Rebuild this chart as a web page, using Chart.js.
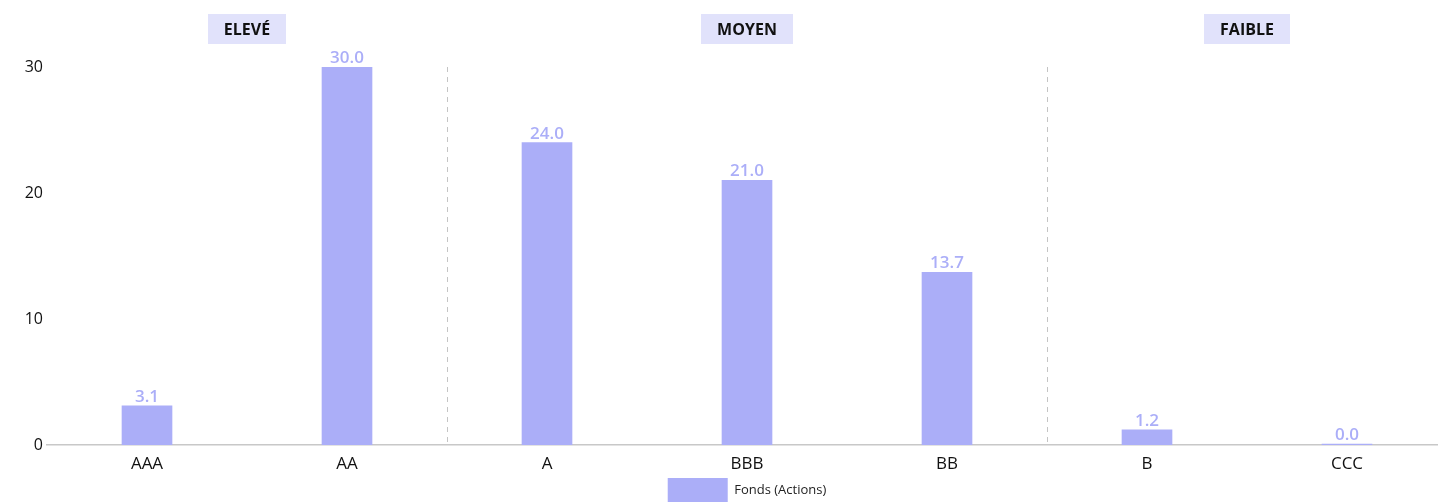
<!DOCTYPE html>
<html lang="fr">
<head>
    <meta charset="UTF-8">
    <title>Fonds (Actions)</title>
    <style>
        body {
            margin: 0;
            padding: 0;
            background-color: #fff;
            overflow: hidden;
        }

        #wrap {
            width: 1438px;
            height: 502px;
            overflow: hidden;
        }

        canvas {
            display: block;
        }
    </style>
    <script src="https://cdn.jsdelivr.net/npm/chart.js"></script>
</head>
<body>
    <div id="wrap">
        <canvas id="myChart" width="1447" height="502"></canvas>
    </div>

    <script>
        // data
        const categories = ['AAA', 'AA', 'A', 'BBB', 'BB', 'B', 'CCC'];
        const fondsActions = [3.1, 30.0, 24.0, 21.0, 13.7, 1.2, 0.0];
        const yTicks = [0, 10, 20, 30];

        // groups: label, first index, last index
        const groupNames = ['ELEVÉ', 'MOYEN', 'FAIBLE'];
        const groupStart = [0, 2, 5];
        const groupEnd = [1, 4, 6];

        const barColor = '#abaef8';
        const headerBg = '#e1e2fb';
        const fontFamily = '"Open Sans", "Noto Sans", sans-serif';

        // value labels over each bar
        const valueLabels = {
            id: 'valueLabels',
            afterDatasetsDraw(chart) {
                const ctx = chart.ctx;
                const meta = chart.getDatasetMeta(0);
                ctx.save();
                ctx.fillStyle = barColor;
                ctx.font = '600 17px ' + fontFamily;
                ctx.textAlign = 'center';
                ctx.textBaseline = 'alphabetic';
                meta.data.forEach(function(bar, i) {
                    ctx.fillText(fondsActions[i].toFixed(1), bar.x, bar.y - 4);
                });
                ctx.restore();
            }
        };

        // dashed separators, group headers, y tick labels
        const groupDecor = {
            id: 'groupDecor',
            beforeDatasetsDraw(chart) {
                const ctx = chart.ctx;
                const x = chart.scales.x;
                const y = chart.scales.y;
                const area = chart.chartArea;
                ctx.save();
                ctx.strokeStyle = '#c4c4c4';
                ctx.lineWidth = 1;
                ctx.setLineDash([5, 5]);
                for (let g = 1; g < groupNames.length; g++) {
                    const px = Math.round((x.getPixelForValue(groupEnd[g - 1]) + x.getPixelForValue(groupStart[g])) / 2) + 0.5;
                    ctx.beginPath();
                    ctx.moveTo(px, area.top);
                    ctx.lineTo(px, area.bottom);
                    ctx.stroke();
                }
                ctx.setLineDash([]);
                ctx.fillStyle = '#111';
                ctx.font = '16px ' + fontFamily;
                ctx.textAlign = 'right';
                ctx.textBaseline = 'middle';
                yTicks.forEach(function(v) {
                    ctx.fillText(String(v), area.left - 4, y.getPixelForValue(v));
                });
                ctx.restore();
            },
            afterDraw(chart) {
                const ctx = chart.ctx;
                const x = chart.scales.x;
                ctx.save();
                ctx.font = '700 16px ' + fontFamily;
                ctx.textAlign = 'center';
                ctx.textBaseline = 'middle';
                groupNames.forEach(function(name, g) {
                    const cx = (x.getPixelForValue(groupStart[g]) + x.getPixelForValue(groupEnd[g])) / 2;
                    const w = ctx.measureText(name).width + 32;
                    ctx.fillStyle = headerBg;
                    ctx.fillRect(Math.round(cx - w / 2), 14, Math.round(w), 30);
                    ctx.fillStyle = '#111';
                    ctx.fillText(name, cx, 30);
                });
                ctx.restore();
            }
        };

        var ctx = document.getElementById('myChart').getContext('2d');
        var myChart = new Chart(ctx, {
            type: 'bar',
            data: {
                labels: categories,
                datasets: [{
                    label: 'Fonds (Actions)',
                    data: fondsActions,
                    backgroundColor: barColor,
                    borderWidth: 0,
                    barThickness: 50,
                    minBarLength: 1
                }]
            },
            options: {
                responsive: false,
                animation: false,
                layout: {
                    padding: { left: 47, top: 67, right: 0, bottom: -10 }
                },
                plugins: {
                    tooltip: { enabled: false },
                    legend: {
                        position: 'bottom',
                        labels: {
                            boxWidth: 60,
                            boxHeight: 24,
                            padding: 0,
                            color: '#222',
                            font: { family: fontFamily, size: 13 }
                        }
                    }
                },
                scales: {
                    x: {
                        afterFit(axis) { axis.height = 33; },
                        grid: { display: false, drawTicks: false },
                        border: { display: true, color: '#c8c8c8', width: 1.5 },
                        ticks: {
                            color: '#111',
                            padding: 9,
                            font: { family: fontFamily, size: 17 }
                        }
                    },
                    y: {
                        min: 0,
                        max: 30,
                        afterFit(axis) { axis.width = 0; },
                        grid: { display: false, drawTicks: false },
                        border: { display: false },
                        ticks: { display: false, stepSize: 10 }
                    }
                }
            },
            plugins: [groupDecor, valueLabels]
        });
    </script>
</body>
</html>
